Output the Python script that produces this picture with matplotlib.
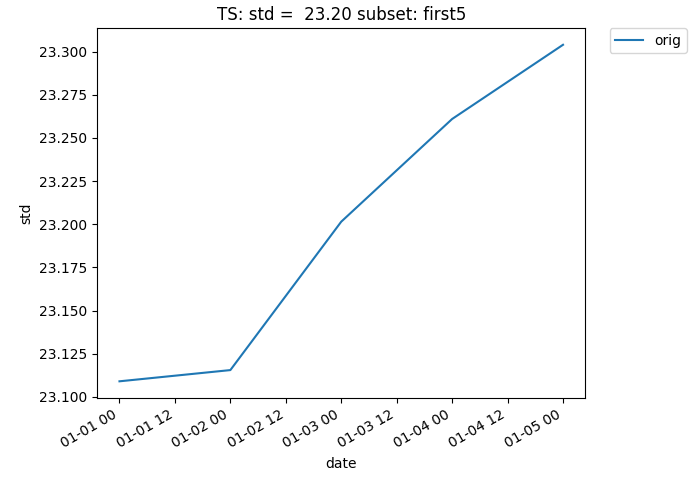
import matplotlib
matplotlib.use("Agg")
import matplotlib.pyplot as plt
import matplotlib.dates as mdates
import numpy as np

dates = np.array(["2000-01-01", "2000-01-02", "2000-01-03", "2000-01-04", "2000-01-05"],
                 dtype="datetime64[D]")
std_vals = [23.109, 23.1155, 23.2015, 23.261, 23.304]

fig, ax = plt.subplots(figsize=(6.95, 4.82), dpi=100)
ax.plot(dates, std_vals, label="orig")
ax.set_title("TS: std =  23.20 subset: first5")
ax.set_xlabel("date")
ax.set_ylabel("std")
ax.xaxis.set_major_locator(mdates.HourLocator(byhour=[0, 12]))
ax.xaxis.set_major_formatter(mdates.DateFormatter("%m-%d %H"))
ax.yaxis.set_major_formatter(matplotlib.ticker.FormatStrFormatter("%.3f"))
ax.legend(bbox_to_anchor=(1.05, 1), loc="upper left", borderaxespad=0.)
fig.autofmt_xdate()
fig.subplots_adjust(left=0.14, right=0.842, top=0.942, bottom=0.174)
fig.savefig("out.png", dpi=100)
